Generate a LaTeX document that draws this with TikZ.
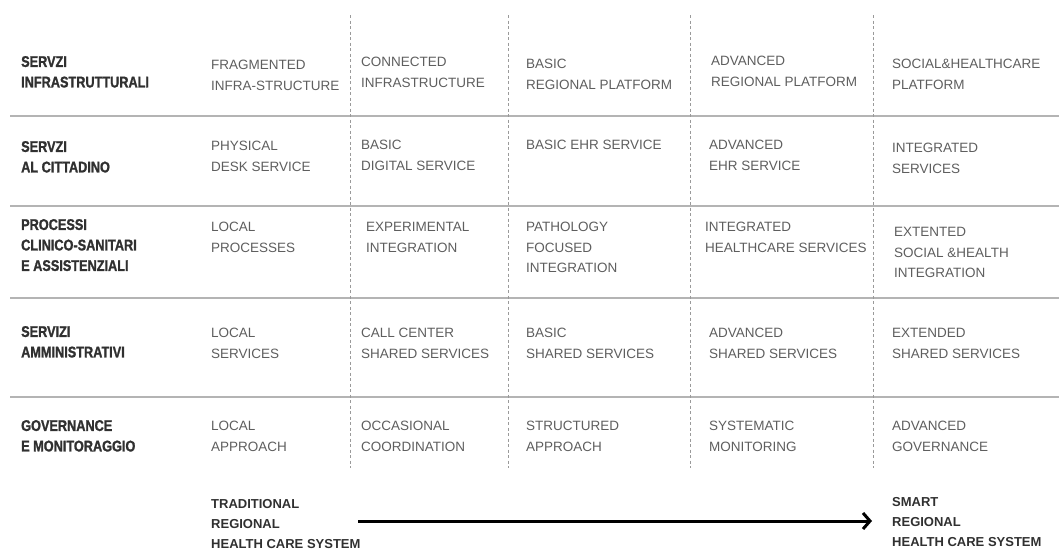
\documentclass[tikz,border=0pt]{standalone}
\usepackage{fontspec}
\setmainfont{Liberation Sans}
\newfontfamily\labfont[FakeStretch=0.82, BoldFeatures={FakeBold=1.3}]{Liberation Sans}
\usetikzlibrary{arrows.meta}
\definecolor{celltext}{HTML}{5E5E5E}
\definecolor{labtext}{HTML}{303030}
\definecolor{gridline}{HTML}{B4B4B4}
\definecolor{dashline}{HTML}{9A9A9A}
\begin{document}
\begin{tikzpicture}[x=1pt,y=-1pt,
  cell/.style={anchor=north west, inner sep=0pt, align=left, text=celltext, font=\fontsize{13.5}{20.5}\selectfont},
  rowlab/.style={anchor=north west, inner sep=0pt, align=left, text=labtext, font=\labfont\bfseries\fontsize{15.5}{20.5}\selectfont},
  endlab/.style={anchor=north west, inner sep=0pt, align=left, text=labtext, font=\bfseries\fontsize{13}{20}\selectfont},
  hline/.style={draw=gridline, line width=1.5pt},
  vline/.style={draw=dashline, line width=0.8pt, dash pattern=on 3pt off 2.5pt},
  progress/.style={line width=3pt, -{Straight Barb[length=7pt,width=16pt]}}]
\useasboundingbox (0,0) rectangle (1059,552);

% grid
\foreach \yy in {116,206,298,397} \draw[hline] (10,\yy) -- (1059,\yy);
\foreach \xx in {350,508,690,873} \draw[vline] (\xx,15) -- (\xx,468);

% row labels
\node[rowlab] (l1) at (21,55.9) {SERVZI\\INFRASTRUTTURALI};
\node[rowlab] (l2) at (21,140.9) {SERVZI\\AL CITTADINO};
\node[rowlab] (l3) at (21,218.9) {PROCESSI\\CLINICO-SANITARI\\E ASSISTENZIALI};
\node[rowlab] (l4) at (21,325.9) {SERVIZI\\AMMINISTRATIVI};
\node[rowlab] (l5) at (21,419.9) {GOVERNANCE\\E MONITORAGGIO};

% row 1
\node[cell] (c11) at (211,60.3) {FRAGMENTED\\INFRA-STRUCTURE};
\node[cell] (c12) at (361,57.3) {CONNECTED\\INFRASTRUCTURE};
\node[cell] (c13) at (526,59.3) {BASIC\\REGIONAL PLATFORM};
\node[cell] (c14) at (711,56.3) {ADVANCED\\REGIONAL PLATFORM};
\node[cell] (c15) at (892,59.3) {SOCIAL\&HEALTHCARE\\PLATFORM};

% row 2
\node[cell] (c21) at (211,141.3) {PHYSICAL\\DESK SERVICE};
\node[cell] (c22) at (361,140.3) {BASIC\\DIGITAL SERVICE};
\node[cell] (c23) at (526,140.3) {BASIC EHR SERVICE};
\node[cell] (c24) at (709,140.3) {ADVANCED\\EHR SERVICE};
\node[cell] (c25) at (892,143.3) {INTEGRATED\\SERVICES};

% row 3
\node[cell] (c31) at (211,222.3) {LOCAL\\PROCESSES};
\node[cell] (c32) at (366,222.3) {EXPERIMENTAL\\INTEGRATION};
\node[cell] (c33) at (526,222.3) {PATHOLOGY\\FOCUSED\\INTEGRATION};
\node[cell] (c34) at (705,222.3) {INTEGRATED\\HEALTHCARE SERVICES};
\node[cell] (c35) at (894,227.3) {EXTENTED\\SOCIAL \&HEALTH\\INTEGRATION};

% row 4
\node[cell] (c41) at (211,328.3) {LOCAL\\SERVICES};
\node[cell] (c42) at (361,328.3) {CALL CENTER\\SHARED SERVICES};
\node[cell] (c43) at (526,328.3) {BASIC\\SHARED SERVICES};
\node[cell] (c44) at (709,328.3) {ADVANCED\\SHARED SERVICES};
\node[cell] (c45) at (892,328.3) {EXTENDED\\SHARED SERVICES};

% row 5
\node[cell] (c51) at (211,421.3) {LOCAL\\APPROACH};
\node[cell] (c52) at (361,421.3) {OCCASIONAL\\COORDINATION};
\node[cell] (c53) at (526,421.3) {STRUCTURED\\APPROACH};
\node[cell] (c54) at (709,421.3) {SYSTEMATIC\\MONITORING};
\node[cell] (c55) at (892,421.3) {ADVANCED\\GOVERNANCE};

% bottom
\node[endlab] (trad) at (211,499) {TRADITIONAL\\REGIONAL\\HEALTH CARE SYSTEM};
\node[endlab] (smart) at (892,497.5) {SMART\\REGIONAL\\HEALTH CARE SYSTEM};
\coordinate (arrS) at (358,521);
\coordinate (arrE) at (872,521);
\draw[progress] (arrS) -- (arrE);
\end{tikzpicture}
\end{document}
